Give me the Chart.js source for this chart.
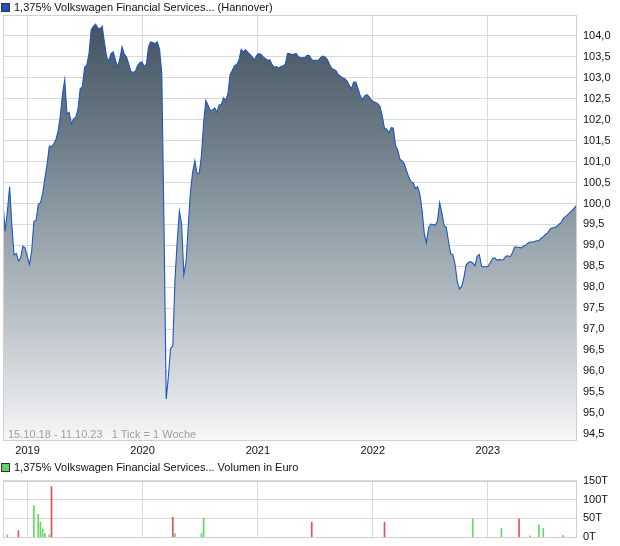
<!DOCTYPE html>
<html>
<head>
<meta charset="utf-8">
<script src="https://cdn.jsdelivr.net/npm/chart.js@4.4.1/dist/chart.umd.min.js"></script>
<style>
  html, body { margin: 0; padding: 0; background: #fff; }
  body { width: 620px; height: 546px; position: relative; overflow: hidden;
         font-family: "Liberation Sans", Arial, sans-serif; }
  canvas { position: absolute; left: 0; }
  #priceCanvas { top: 0; }
  #volCanvas { top: 468px; }
  .lg { position: absolute; left: 1px; font-size: 11px; color: #111; white-space: pre; line-height: 13px; }
  .sq { display: inline-block; width: 7px; height: 7px; border: 1px solid #333; vertical-align: -1px; margin-right: 4px; }
  #range { position: absolute; left: 8px; top: 428px; font-size: 11px; color: #a0a0a0; white-space: pre; line-height: 13px; }
</style>
</head>
<body>
<canvas id="priceCanvas" width="620" height="460"></canvas>
<canvas id="volCanvas" width="620" height="82"></canvas>
<div class="lg" style="top:1px"><span class="sq" style="background:#1f4fb8"></span>1,375% Volkswagen Financial Services... (Hannover)</div>
<div id="range">15.10.18 - 11.10.23   1 Tick = 1 Woche</div>
<div class="lg" style="top:461px"><span class="sq" style="background:#5fd65f"></span>1,375% Volkswagen Financial Services... Volumen in Euro</div>
<script>
// ---- data (weekly closes, week 0 = 15.10.2018) ----
const startDate = Date.UTC(2018, 9, 15);
const endDate = Date.UTC(2023, 9, 11);
const prices = [
  100.0, 99.34, 99.82, 100.4, 99.5, 98.77, 98.81, 98.63, 98.7, 98.98,
  98.94, 98.74, 98.55, 98.86, 99.57, 99.6, 99.98, 100.02, 100.24, 100.6,
  100.94, 101.37, 101.36, 101.42, 101.53, 101.73, 102.1, 102.62, 102.96, 102.14,
  102.18, 101.9, 102.02, 102.06, 102.25, 102.74, 102.79, 103.25, 103.3, 103.58,
  104.15, 104.23, 104.28, 104.19, 104.17, 104.23, 103.84, 103.5, 103.4, 103.58,
  103.62, 103.42, 103.26, 103.46, 103.74, 103.56, 103.5, 103.33, 103.15, 103.13,
  103.15, 103.29, 103.36, 103.38, 103.27, 103.33, 103.74, 103.86, 103.84, 103.82,
  103.86, 103.68, 103.1, 99.5, 95.33, 95.87, 96.54, 96.6, 98.2, 99.1,
  99.82, 99.5, 98.3, 98.6, 99.45, 100.28, 100.75, 101.02, 100.72, 100.73,
  101.15, 101.94, 102.46, 102.34, 102.22, 102.23, 102.28, 102.18, 102.35, 102.36,
  102.52, 102.46, 102.62, 103.08, 103.18, 103.29, 103.32, 103.42, 103.68, 103.62,
  103.67, 103.61, 103.56, 103.5, 103.43, 103.53, 103.58, 103.56, 103.5, 103.46,
  103.42, 103.43, 103.32, 103.25, 103.27, 103.23, 103.27, 103.29, 103.32, 103.58,
  103.58, 103.55, 103.57, 103.58, 103.5, 103.48, 103.48, 103.49, 103.54, 103.53,
  103.43, 103.42, 103.42, 103.42, 103.48, 103.52, 103.5, 103.44, 103.33, 103.23,
  103.2, 103.17, 103.08, 103.04, 103.0, 102.98, 102.92, 102.82, 102.74, 102.9,
  102.9, 102.74, 102.57, 102.48, 102.57, 102.6, 102.55, 102.47, 102.43, 102.41,
  102.38, 102.31, 102.08, 101.79, 101.78, 101.68, 101.81, 101.8, 101.38, 101.27,
  101.06, 101.02, 100.95, 100.78, 100.63, 100.52, 100.49, 100.36, 100.4, 100.23,
  99.86, 99.3, 99.06, 99.42, 99.51, 99.5, 99.48, 99.58, 100.02, 99.78,
  99.48, 99.43, 99.1, 98.8, 98.78, 98.55, 98.13, 97.96, 98.02, 98.23,
  98.53, 98.59, 98.61, 98.58, 98.51, 98.74, 98.78, 98.5, 98.49, 98.49,
  98.5, 98.59, 98.69, 98.7, 98.65, 98.66, 98.65, 98.66, 98.74, 98.75,
  98.73, 98.82, 98.96, 98.96, 98.95, 98.94, 98.98, 99.0, 99.05, 99.08,
  99.08, 99.09, 99.11, 99.11, 99.17, 99.21, 99.26, 99.3, 99.38, 99.42,
  99.42, 99.45, 99.5, 99.54, 99.64, 99.68, 99.73, 99.78, 99.83, 99.89,
  99.95
];
// volume (thousand euro), week index, and whether it was an up (green) or down (red) week
const volWeeks  = [2, 7, 14, 16, 17, 18, 19, 21, 22, 77, 78, 90, 91, 140, 173, 213, 226, 234, 239, 243, 245, 254];
const volValues = [7, 18, 84, 61, 40, 22, 10, 7, 134, 53, 10, 10, 51, 40, 40, 49, 23, 49, 4, 33, 23, 5];
const volUp     = [1, 0, 1, 1, 1, 1, 1, 1, 0, 0, 1, 1, 1, 0, 0, 1, 1, 0, 1, 1, 1, 1];
const yearLabels = ['2019', '2020', '2021', '2022', '2023'];
const priceTicks = [94.5, 95.0, 95.5, 96.0, 96.5, 97.0, 97.5, 98.0, 98.5, 99.0, 99.5, 100.0,
                    100.5, 101.0, 101.5, 102.0, 102.5, 103.0, 103.5, 104.0];
const volTicks = [0, 50, 100, 150];

// ---- helpers ----
const WEEK = 7 * 86400000;
const xMax = (endDate - startDate) / WEEK;
const yearTicks = yearLabels.map(y => (Date.UTC(+y, 0, 1) - startDate) / WEEK);
const FONT = { family: '"Liberation Sans", Arial, sans-serif', size: 11 };
const GRID = '#dadada';

const framePlugin = {
  id: 'frame',
  afterDatasetsDraw(chart) {
    const a = chart.chartArea, c = chart.ctx;
    c.save();
    c.strokeStyle = '#cfcfcf';
    c.lineWidth = 1;
    c.strokeRect(Math.round(a.left) + 0.5, Math.round(a.top) + 0.5,
                 Math.round(a.right - a.left) - 1, Math.round(a.bottom - a.top) - 1);
    c.restore();
  }
};

function areaGradient(ctx) {
  const chart = ctx.chart, a = chart.chartArea;
  if (!a) return 'rgba(0,0,0,0)';
  const g = chart.ctx.createLinearGradient(0, a.top, 0, a.bottom);
  g.addColorStop(0, '#42505b');
  g.addColorStop(0.1, '#4f5f6b');
  g.addColorStop(0.29, '#6c7d88');
  g.addColorStop(0.53, '#98a5ac');
  g.addColorStop(0.76, '#c4cacf');
  g.addColorStop(1, '#f6f7f8');
  return g;
}

Chart.defaults.font.family = FONT.family;
Chart.defaults.font.size = 11;

new Chart(document.getElementById('priceCanvas'), {
  type: 'line',
  data: {
    datasets: [{
      data: prices.map((v, i) => ({ x: i, y: v })),
      borderColor: '#1c56c9',
      borderWidth: 1.1,
      pointRadius: 0,
      tension: 0,
      fill: 'start',
      backgroundColor: areaGradient
    }]
  },
  options: {
    responsive: false,
    animation: false,
    events: [],
    layout: { padding: { left: 3, top: 15, right: 0, bottom: 0 } },
    plugins: { legend: { display: false }, tooltip: { enabled: false } },
    scales: {
      x: {
        type: 'linear', min: 0, max: xMax,
        afterBuildTicks: s => { s.ticks = yearTicks.map(v => ({ value: v })); },
        afterFit: s => { s.height = 19; },
        grid: { color: GRID, drawTicks: false },
        border: { display: false },
        ticks: { autoSkip: false, maxRotation: 0, padding: 3, color: '#111', font: FONT,
                 callback: (v, i) => yearLabels[i] }
      },
      y: {
        position: 'right', min: 94.33, max: 104.5,
        afterBuildTicks: s => { s.ticks = priceTicks.map(v => ({ value: v })); },
        afterFit: s => { s.width = 43; },
        grid: { color: GRID, drawTicks: false },
        border: { display: false },
        ticks: { padding: 6, color: '#111', font: FONT,
                 callback: v => v.toFixed(1).replace('.', ',') }
      }
    }
  },
  plugins: [framePlugin]
});

new Chart(document.getElementById('volCanvas'), {
  type: 'bar',
  data: {
    datasets: [{
      data: volWeeks.map((w, i) => ({ x: w, y: volValues[i] })),
      backgroundColor: volUp.map(u => u ? '#62d862' : '#e35252'),
      barThickness: 1,
      grouped: false
    }]
  },
  options: {
    responsive: false,
    animation: false,
    events: [],
    layout: { padding: { left: 3, top: 7, right: 0, bottom: 0 } },
    plugins: { legend: { display: false }, tooltip: { enabled: false } },
    scales: {
      x: {
        type: 'linear', min: 0, max: xMax, offset: false,
        afterBuildTicks: s => { s.ticks = yearTicks.map(v => ({ value: v })); },
        afterFit: s => { s.height = 9; },
        grid: { color: GRID, drawTicks: false, offset: false },
        border: { display: false },
        ticks: { display: false }
      },
      y: {
        position: 'right', min: 0, max: 150,
        afterBuildTicks: s => { s.ticks = volTicks.map(v => ({ value: v })); },
        afterFit: s => { s.width = 43; },
        grid: { color: GRID, drawTicks: false },
        border: { display: false },
        ticks: { padding: 6, color: '#111', font: FONT, callback: v => v + 'T' }
      }
    }
  },
  plugins: [framePlugin]
});
</script>
</body>
</html>
